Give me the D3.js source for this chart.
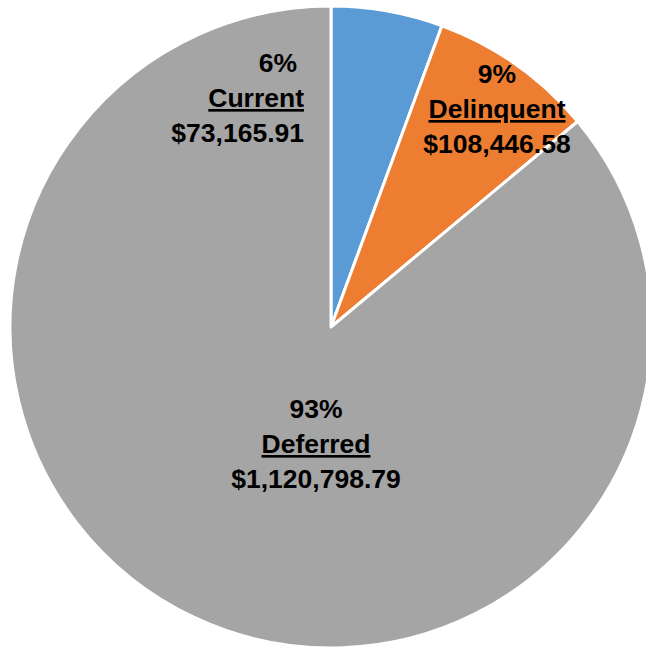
<!DOCTYPE html>
<html>
<head>
<meta charset="utf-8">
<script src="https://cdn.jsdelivr.net/npm/d3@7"></script>
<style>
  body { margin: 0; background: #fff; }
  text { font-family: "Liberation Sans", Arial, sans-serif; font-weight: bold; fill: #000; }
</style>
</head>
<body>
<div id="chart"></div>
<script>
var width = 646
var height = 650

// data
var categories = ["Current", "Delinquent", "Deferred"]
var amounts = [73165.91, 108446.58, 1120798.79]
var pctLabels = ["6%", "9%", "93%"]
var colors = ["#5B9BD5", "#ED7D31", "#A5A5A5"]

// where Excel put each label block (anchor x, baseline of first line, alignment)
var labelPos = [[304, 72, "end"], [497, 83, "middle"], [316, 418, "middle"]]

var cx = 331, cy = 327, radius = 321

var svg = d3.select("#chart")
    .append("svg")
    .attr("width", width)
    .attr("height", height)

var g = svg.append("g")
    .attr("transform", "translate(" + cx + "," + cy + ")")

var pie = d3.pie().sort(null)
var arcs = pie(amounts)

var arc = d3.arc().innerRadius(0).outerRadius(radius)

g.selectAll("path")
    .data(arcs)
    .enter()
    .append("path")
    .attr("d", arc)
    .style("fill", (d, i) => colors[i])
    .style("stroke", "#fff")
    .style("stroke-width", 3)
    .style("stroke-linejoin", "round")

var money = d3.format("$,.2f")
var fs = 26.5, lh = 35

var labels = svg.selectAll(".lbl")
    .data(arcs)
    .enter()
    .append("g")
    .attr("class", "lbl")
    .attr("transform", (d, i) => "translate(" + labelPos[i][0] + "," + labelPos[i][1] + ")")

// first line: percent (Excel keeps a trailing space on right-aligned labels)
labels.append("text")
    .attr("text-anchor", (d, i) => labelPos[i][2])
    .attr("dx", (d, i) => labelPos[i][2] == "end" ? -7 : 0)
    .style("font-size", fs + "px")
    .text((d, i) => pctLabels[i])

labels.append("text")
    .attr("text-anchor", (d, i) => labelPos[i][2])
    .attr("y", lh)
    .style("font-size", fs + "px")
    .style("text-decoration", "underline")
    .text((d, i) => categories[i])

labels.append("text")
    .attr("text-anchor", (d, i) => labelPos[i][2])
    .attr("y", lh * 2)
    .style("font-size", fs + "px")
    .text(d => money(d.data))
</script>
</body>
</html>
